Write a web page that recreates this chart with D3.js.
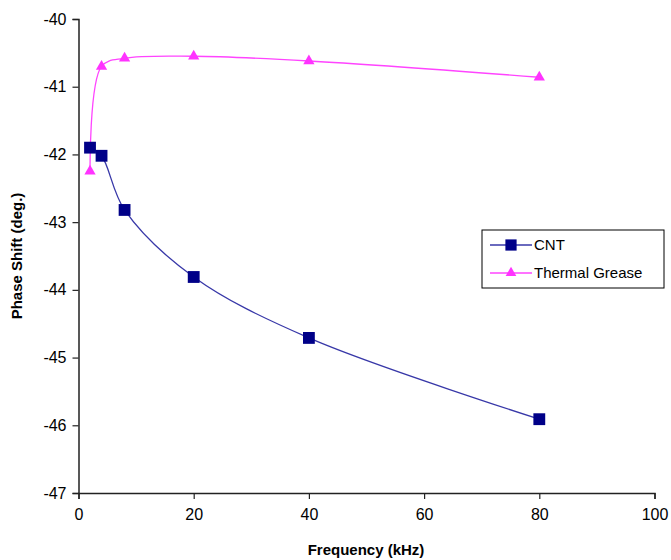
<!DOCTYPE html>
<html>
<head>
<meta charset="utf-8">
<script src="https://cdn.jsdelivr.net/npm/d3@7/dist/d3.min.js"></script>
<style>
  body { margin: 0; background: #fff; }
  text { font-family: "Liberation Sans", Arial, sans-serif; }
</style>
</head>
<body>
<svg id="chart" width="671" height="560"></svg>
<script>
// values
var freq = [2, 4, 8, 20, 40, 80];
var cnt = [-41.9, -42.02, -42.82, -43.81, -44.71, -45.91];
var grease = [-42.25, -40.7, -40.58, -40.55, -40.62, -40.86];
var xTicks = [0, 20, 40, 60, 80, 100];
var yTicks = [-40, -41, -42, -43, -44, -45, -46, -47];

var svg = d3.select("#chart");

var x = d3.scaleLinear().domain([0, 100]).range([78.5, 654.5]),
    y = d3.scaleLinear().domain([-47, -40]).range([493, 19]);

var plain = function(d) { return String(d); };

// axes
var xAxis = svg.append("g")
    .attr("transform", "translate(0,493)")
    .call(d3.axisBottom(x).tickValues(xTicks).tickFormat(plain).tickSize(6).tickPadding(10));
var yAxis = svg.append("g")
    .attr("transform", "translate(78.5,0)")
    .call(d3.axisLeft(y).tickValues(yTicks).tickFormat(plain).tickSize(6).tickPadding(6));

[xAxis, yAxis].forEach(function(g) {
    g.select(".domain").attr("stroke", "#222").attr("stroke-width", 1.5);
    g.selectAll(".tick line").attr("stroke", "#222").attr("stroke-width", 1.2);
    g.selectAll(".tick text").attr("fill", "#000")
        .style("font-size", "16px").style("font-family", "Liberation Sans, Arial, sans-serif");
});

// titles
svg.append("text")
    .attr("x", 366).attr("y", 555)
    .attr("text-anchor", "middle")
    .style("font-size", "15px").style("font-weight", "bold")
    .text("Frequency (kHz)");
svg.append("text")
    .attr("transform", "translate(22,256) rotate(-90)")
    .attr("text-anchor", "middle")
    .style("font-size", "15px").style("font-weight", "bold")
    .text("Phase Shift (deg.)");

var line = d3.line()
    .x(function(d) { return x(d[0]); })
    .y(function(d) { return y(d[1]); })
    .curve(d3.curveCatmullRom.alpha(0.5));

var series = [
    { name: "CNT", vals: cnt, line: "#3838a8", mark: "#000088", shape: d3.symbolSquare, size: 140 },
    { name: "Thermal Grease", vals: grease, line: "#ff44ff", mark: "#ff33ff", shape: d3.symbolTriangle, size: 55 }
];

series.forEach(function(s) {
    var pts = freq.map(function(f, i) { return [f, s.vals[i]]; });
    svg.append("path")
        .datum(pts)
        .attr("fill", "none")
        .attr("stroke", s.line)
        .attr("stroke-width", 1.3)
        .attr("d", line);
});

series.forEach(function(s) {
    var pts = freq.map(function(f, i) { return [f, s.vals[i]]; });
    svg.selectAll(null)
        .data(pts)
      .enter().append("path")
        .attr("transform", function(d) { return "translate(" + x(d[0]) + "," + y(d[1]) + ")"; })
        .attr("d", d3.symbol().type(s.shape).size(s.size))
        .attr("fill", s.mark);
});

// legend
var lg = svg.append("g").attr("transform", "translate(482,230)");
lg.append("rect")
    .attr("width", 182).attr("height", 58)
    .attr("fill", "#fff").attr("stroke", "#000").attr("stroke-width", 1);
series.forEach(function(s, i) {
    var cy = 15 + i * 28;
    lg.append("line")
        .attr("x1", 8).attr("x2", 50).attr("y1", cy).attr("y2", cy)
        .attr("stroke", s.line).attr("stroke-width", 1.3);
    lg.append("path")
        .attr("transform", "translate(29," + cy + ")")
        .attr("d", d3.symbol().type(s.shape).size(s.size * 0.9))
        .attr("fill", s.mark);
    lg.append("text")
        .attr("x", 52).attr("y", cy + 5)
        .style("font-size", "15px")
        .text(s.name);
});
</script>
</body>
</html>
